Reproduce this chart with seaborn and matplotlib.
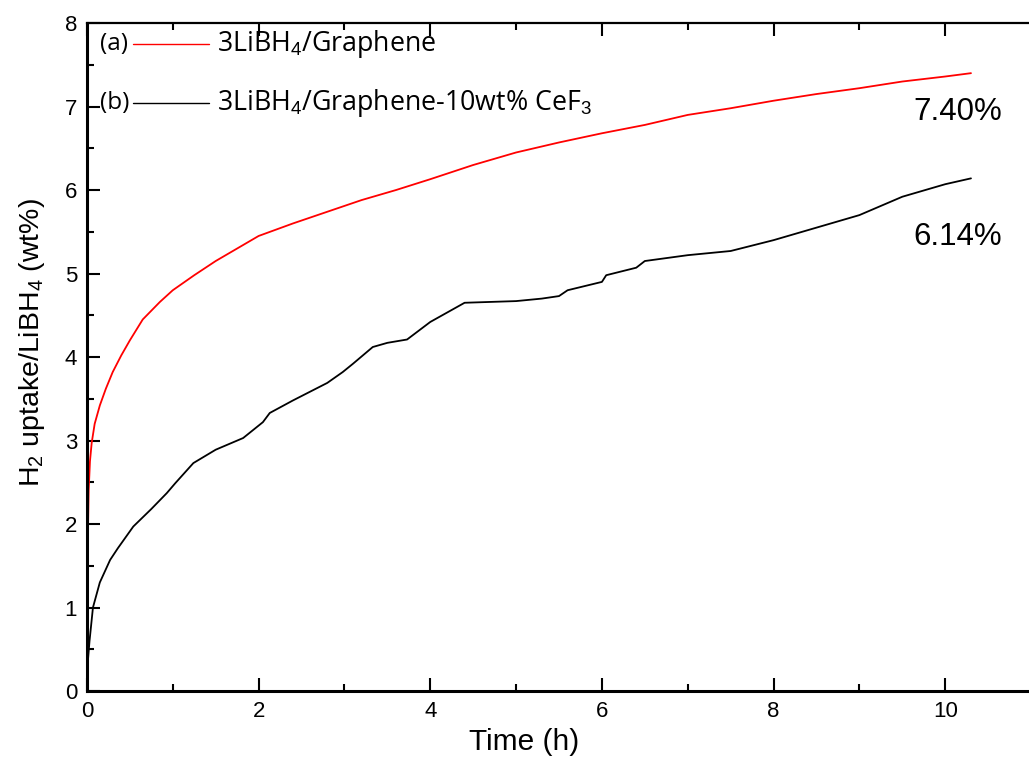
import pandas as pd
import seaborn as sns
import matplotlib.pyplot as plt
from matplotlib.ticker import MultipleLocator

# curve (a): 3LiBH4/Graphene
time_a = [0, 0.004, 0.01, 0.02, 0.035, 0.055, 0.09, 0.15, 0.22, 0.3, 0.4, 0.5, 0.65, 0.85,
          1.0, 1.25, 1.5, 1.75, 2.0, 2.4, 2.8, 3.2, 3.6, 4.0, 4.5, 5.0, 5.5, 6.0, 6.5,
          7.0, 7.5, 8.0, 8.5, 9.0, 9.5, 10.0, 10.3]
uptake_a = [0, 1.0, 1.8, 2.4, 2.75, 2.97, 3.2, 3.42, 3.62, 3.82, 4.02, 4.2, 4.45, 4.66,
            4.8, 4.98, 5.15, 5.3, 5.45, 5.6, 5.74, 5.88, 6.0, 6.13, 6.3, 6.45, 6.57, 6.68, 6.78,
            6.9, 6.98, 7.07, 7.15, 7.22, 7.3, 7.36, 7.40]

# curve (b): 3LiBH4/Graphene-10wt% CeF3
time_b = [0, 0.01, 0.03, 0.07, 0.15, 0.27, 0.36, 0.54, 0.75, 0.93, 1.03, 1.24, 1.5, 1.82,
          2.05, 2.13, 2.4, 2.8, 2.98, 3.1, 3.33, 3.5, 3.73, 4.0, 4.4, 4.7, 5.0, 5.3, 5.5,
          5.6, 6.0, 6.05, 6.4, 6.5, 7.0, 7.5, 8.0, 8.5, 9.0, 9.5, 10.0, 10.3]
uptake_b = [0, 0.35, 0.6, 1.0, 1.3, 1.57, 1.71, 1.97, 2.18, 2.37, 2.49, 2.73, 2.89, 3.03,
            3.22, 3.33, 3.48, 3.69, 3.82, 3.92, 4.12, 4.17, 4.21, 4.42, 4.65, 4.66, 4.67, 4.7, 4.73,
            4.8, 4.9, 4.98, 5.07, 5.15, 5.22, 5.27, 5.4, 5.55, 5.7, 5.92, 6.07, 6.14]

labels = ['3LiBH$_4$/Graphene', '3LiBH$_4$/Graphene-10wt% CeF$_3$']
tags = ['(a)', '(b)']
colors = ['#ff0000', '#000000']
final_text = ['7.40%', '6.14%']

df = pd.concat([
    pd.DataFrame({'time': time_a, 'uptake': uptake_a, 'sample': labels[0]}),
    pd.DataFrame({'time': time_b, 'uptake': uptake_b, 'sample': labels[1]}),
])

sns.set_style('ticks')
plt.rcParams['font.family'] = ['Liberation Sans', 'DejaVu Sans']
plt.rcParams['mathtext.fontset'] = 'custom'
plt.rcParams['mathtext.rm'] = 'Liberation Sans'
plt.rcParams['mathtext.it'] = 'Liberation Sans:italic'
plt.rcParams['text.color'] = 'black'
plt.rcParams['axes.labelcolor'] = 'black'
plt.rcParams['xtick.color'] = 'black'
plt.rcParams['ytick.color'] = 'black'
plt.rcParams['axes.edgecolor'] = 'black'

fig = plt.figure(figsize=(10.29, 7.59), dpi=100)
ax = fig.add_axes([0.0845, 0.0896, 0.9175, 0.880])

sns.lineplot(data=df, x='time', y='uptake', hue='sample', palette=colors,
             linewidth=1.3, legend=False, ax=ax, sort=False, estimator=None)

ax.set_xlim(0, 11)
ax.set_ylim(0, 8)
ax.xaxis.set_major_locator(MultipleLocator(2))
ax.xaxis.set_minor_locator(MultipleLocator(1))
ax.yaxis.set_major_locator(MultipleLocator(1))
ax.yaxis.set_minor_locator(MultipleLocator(0.5))
ax.tick_params(which='major', direction='in', length=9.5, width=1.5, labelsize=16,
               right=False, pad=7)
ax.tick_params(which='minor', direction='in', length=5, width=1.5, right=False)
ax.tick_params(axis='x', which='both', top=True)
for side in ['left', 'bottom']:
    ax.spines[side].set_linewidth(2.2)
ax.spines['top'].set_linewidth(1.6)
ax.spines['right'].set_visible(False)

ax.set_xlabel('Time (h)', fontsize=21.5)
ax.xaxis.set_label_coords(0.463, -0.0554)
ax.set_ylabel('H$_2$ uptake/LiBH$_4$ (wt%)', fontsize=20.5)
ax.yaxis.set_label_coords(-0.042, 0.522)

# hand-made legend
leg_font = ['Open Sans', 'DejaVu Sans']
for i, (tag, lab, col) in enumerate(zip(tags, labels, colors)):
    yy = [0.9686, 0.880][i]
    ax.text(0.0138, yy, tag, transform=ax.transAxes, fontsize=17.5, family=leg_font,
            va='center', ha='left')
    ax.plot([0.0487, 0.129], [yy, yy], color=col, lw=1.0, transform=ax.transAxes)
    ax.text(0.1377, yy, lab, transform=ax.transAxes, fontsize=19.3, family=leg_font,
            va='center', ha='left')

# final uptake values
ax.text(10.15, 6.93, final_text[0], fontsize=22.5, ha='center', va='center')
ax.text(10.15, 5.44, final_text[1], fontsize=22.5, ha='center', va='center')

fig.savefig('out.png', dpi=100)
